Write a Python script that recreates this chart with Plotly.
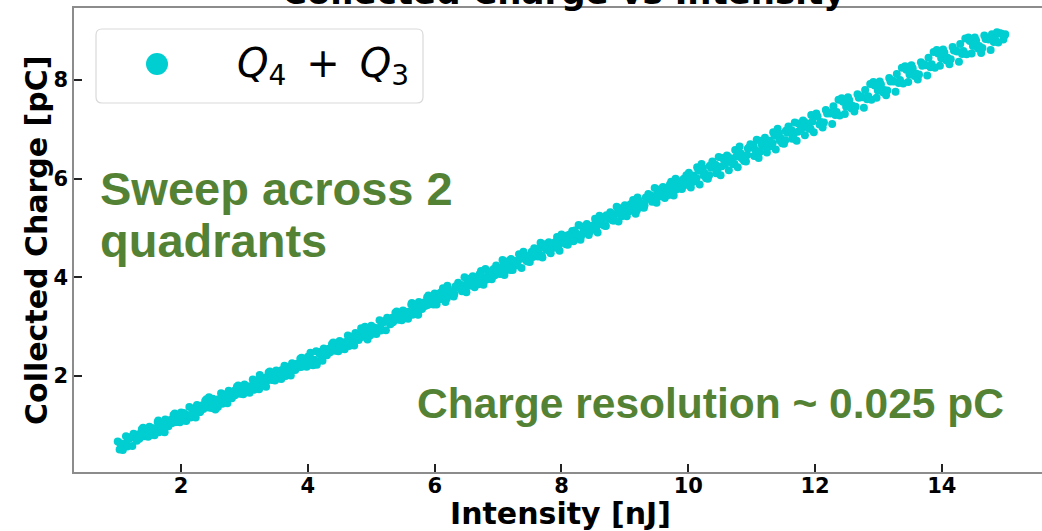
import plotly.graph_objects as go

# ---- measured data: collected charge [pC] vs laser intensity [nJ] ----
intensity_low = [
    1.00, 1.03, 1.05, 1.08, 1.10, 1.13, 1.15, 1.18, 1.20, 1.23, 1.25, 1.28, 1.30, 1.33, 1.35, 1.38, 1.40, 1.43, 1.45, 1.48,
    1.50, 1.53, 1.55, 1.58, 1.60, 1.63, 1.65, 1.68, 1.70, 1.73, 1.75, 1.78, 1.80, 1.83, 1.85, 1.88, 1.90, 1.93, 1.95, 1.98,
    2.00, 2.03, 2.05, 2.08, 2.10, 2.13, 2.15, 2.18, 2.20, 2.23, 2.25, 2.28, 2.30, 2.33, 2.35, 2.38, 2.40, 2.43, 2.45, 2.48,
    2.50, 2.53, 2.55, 2.58, 2.60, 2.63, 2.65, 2.68, 2.70, 2.73, 2.75, 2.78, 2.80, 2.83, 2.85, 2.88, 2.90, 2.93, 2.95, 2.98,
    3.00, 3.03, 3.05, 3.08, 3.10, 3.13, 3.15, 3.18, 3.20, 3.23, 3.25, 3.28, 3.30, 3.33, 3.35, 3.38, 3.40, 3.43, 3.45, 3.48,
    3.50, 3.53, 3.55, 3.58, 3.60, 3.63, 3.65, 3.68, 3.70, 3.73, 3.75, 3.78, 3.80, 3.83, 3.85, 3.88, 3.90, 3.93, 3.95, 3.98,
    4.00, 4.03, 4.05, 4.08, 4.10, 4.13, 4.15, 4.18, 4.20, 4.23, 4.25, 4.28, 4.30, 4.33, 4.35, 4.38, 4.40, 4.43, 4.45, 4.48,
    4.50, 4.53, 4.55, 4.58, 4.60, 4.63, 4.65, 4.68, 4.70, 4.73, 4.75, 4.78, 4.80, 4.83, 4.85, 4.88, 4.90, 4.93, 4.95, 4.98,
    5.00, 5.03, 5.05, 5.08, 5.10, 5.13, 5.15, 5.18, 5.20, 5.23, 5.25, 5.28, 5.30, 5.33, 5.35, 5.38, 5.40, 5.43, 5.45, 5.48,
    5.50, 5.53, 5.55, 5.58, 5.60, 5.63, 5.65, 5.68, 5.70, 5.73, 5.75, 5.78, 5.80, 5.83, 5.85, 5.88, 5.90, 5.93, 5.95, 5.98,
]
charge_low = [
    0.67, 0.51, 0.63, 0.50, 0.61, 0.78, 0.57, 0.74, 0.76, 0.58, 0.83, 0.74, 0.69, 0.82, 0.75, 0.92, 0.95, 0.78, 0.92, 0.77,
    0.97, 0.81, 0.93, 0.80, 0.90, 1.07, 0.86, 1.03, 1.05, 0.87, 1.12, 1.03, 0.98, 1.11, 1.04, 1.21, 1.24, 1.07, 1.21, 1.06,
    1.26, 1.10, 1.22, 1.09, 1.20, 1.37, 1.16, 1.33, 1.34, 1.16, 1.41, 1.32, 1.27, 1.40, 1.33, 1.50, 1.53, 1.36, 1.50, 1.35,
    1.54, 1.38, 1.50, 1.37, 1.48, 1.65, 1.44, 1.61, 1.63, 1.45, 1.70, 1.61, 1.55, 1.68, 1.61, 1.78, 1.81, 1.64, 1.78, 1.63,
    1.83, 1.67, 1.79, 1.66, 1.76, 1.93, 1.72, 1.89, 1.91, 1.73, 1.98, 1.89, 1.84, 1.97, 1.90, 2.07, 2.09, 1.92, 2.06, 1.91,
    2.11, 1.95, 2.07, 1.94, 2.04, 2.21, 2.00, 2.17, 2.19, 2.01, 2.26, 2.17, 2.12, 2.25, 2.18, 2.35, 2.37, 2.20, 2.34, 2.19,
    2.39, 2.23, 2.35, 2.22, 2.33, 2.50, 2.29, 2.46, 2.49, 2.31, 2.56, 2.47, 2.42, 2.55, 2.48, 2.65, 2.68, 2.51, 2.65, 2.50,
    2.71, 2.55, 2.67, 2.54, 2.65, 2.82, 2.61, 2.78, 2.80, 2.62, 2.87, 2.78, 2.73, 2.86, 2.79, 2.96, 3.00, 2.83, 2.97, 2.82,
    3.02, 2.86, 2.98, 2.85, 2.96, 3.13, 2.92, 3.09, 3.11, 2.93, 3.18, 3.09, 3.05, 3.18, 3.11, 3.28, 3.31, 3.14, 3.28, 3.13,
    3.33, 3.17, 3.29, 3.16, 3.28, 3.45, 3.24, 3.41, 3.43, 3.25, 3.50, 3.41, 3.36, 3.49, 3.42, 3.59, 3.63, 3.46, 3.60, 3.45,
]
intensity_low_2 = [
    1.04, 1.09, 1.14, 1.19, 1.24, 1.29, 1.34, 1.39, 1.44, 1.49, 1.54, 1.59, 1.64, 1.69, 1.74, 1.79, 1.84, 1.89, 1.94, 1.99,
    2.04, 2.09, 2.14, 2.19, 2.24, 2.29, 2.34, 2.39, 2.44, 2.49, 2.54, 2.59, 2.64, 2.69, 2.74, 2.79, 2.84, 2.89, 2.94, 2.99,
    3.04, 3.09, 3.14, 3.19, 3.24, 3.29, 3.34, 3.39, 3.44, 3.49, 3.54, 3.59, 3.64, 3.69, 3.74, 3.79, 3.84, 3.89, 3.94, 3.99,
    4.04, 4.09, 4.14, 4.19, 4.24, 4.29, 4.34, 4.39, 4.44, 4.49, 4.54, 4.59, 4.64, 4.69, 4.74, 4.79, 4.84, 4.89, 4.94, 4.99,
    5.04, 5.09, 5.14, 5.19, 5.24, 5.29, 5.34, 5.39, 5.44, 5.49, 5.54, 5.59, 5.64, 5.69, 5.74, 5.79, 5.84, 5.89, 5.94, 5.99,
]
charge_low_2 = [
    0.63, 0.59, 0.64, 0.74, 0.78, 0.74, 0.73, 0.83, 0.84, 0.81, 0.94, 0.94, 1.10, 0.95, 0.86, 1.07, 1.10, 1.06, 1.11, 1.21,
    1.25, 1.21, 1.20, 1.30, 1.30, 1.27, 1.40, 1.40, 1.57, 1.42, 1.32, 1.53, 1.56, 1.52, 1.57, 1.67, 1.70, 1.66, 1.65, 1.75,
    1.76, 1.73, 1.85, 1.85, 2.02, 1.87, 1.78, 1.99, 2.01, 1.97, 2.02, 2.12, 2.15, 2.11, 2.10, 2.20, 2.21, 2.18, 2.30, 2.30,
    2.47, 2.32, 2.23, 2.44, 2.48, 2.44, 2.49, 2.59, 2.63, 2.59, 2.59, 2.69, 2.70, 2.67, 2.80, 2.80, 2.97, 2.82, 2.74, 2.95,
    2.98, 2.94, 2.99, 3.09, 3.13, 3.09, 3.09, 3.19, 3.20, 3.17, 3.30, 3.30, 3.48, 3.33, 3.24, 3.45, 3.48, 3.44, 3.50, 3.60,
]

intensity_mid = [
    6.00, 6.03, 6.07, 6.10, 6.13, 6.17, 6.20, 6.23, 6.27, 6.30, 6.33, 6.37, 6.40, 6.43, 6.47,
    6.50, 6.53, 6.57, 6.60, 6.63, 6.67, 6.70, 6.73, 6.77, 6.80, 6.83, 6.87, 6.90, 6.93, 6.97,
    7.00, 7.03, 7.07, 7.10, 7.13, 7.17, 7.20, 7.23, 7.27, 7.30, 7.33, 7.37, 7.40, 7.43, 7.47,
    7.50, 7.53, 7.57, 7.60, 7.63, 7.67, 7.70, 7.73, 7.77, 7.80, 7.83, 7.87, 7.90, 7.93, 7.97,
    8.00, 8.03, 8.07, 8.10, 8.13, 8.17, 8.20, 8.23, 8.27, 8.30, 8.33, 8.37, 8.40, 8.43, 8.47,
    8.50, 8.53, 8.57, 8.60, 8.63, 8.67, 8.70, 8.73, 8.77, 8.80, 8.83, 8.87, 8.90, 8.93, 8.97,
    9.00, 9.03, 9.07, 9.10, 9.13, 9.17, 9.20, 9.23, 9.27, 9.30, 9.33, 9.37, 9.40, 9.43, 9.47,
    9.50, 9.53, 9.57, 9.60, 9.63, 9.67, 9.70, 9.73, 9.77, 9.80, 9.83, 9.87, 9.90, 9.93, 9.97,
]
charge_mid = [
    3.67, 3.45, 3.63, 3.56, 3.78, 3.50, 3.83, 3.68, 3.63, 3.61, 3.82, 3.89, 3.83, 3.72, 4.00,
    3.70, 3.97, 3.86, 4.02, 3.80, 3.98, 3.91, 4.13, 3.85, 4.17, 4.02, 3.97, 3.96, 4.17, 4.24,
    4.18, 4.07, 4.35, 4.05, 4.32, 4.21, 4.37, 4.15, 4.33, 4.25, 4.47, 4.19, 4.52, 4.37, 4.32,
    4.31, 4.52, 4.59, 4.53, 4.42, 4.70, 4.40, 4.67, 4.56, 4.71, 4.49, 4.67, 4.60, 4.82, 4.54,
    4.87, 4.72, 4.67, 4.66, 4.87, 4.94, 4.89, 4.78, 5.06, 4.76, 5.03, 4.92, 5.08, 4.86, 5.04,
    4.97, 5.19, 4.91, 5.25, 5.10, 5.05, 5.04, 5.25, 5.32, 5.26, 5.15, 5.43, 5.13, 5.40, 5.29,
    5.46, 5.24, 5.42, 5.35, 5.57, 5.29, 5.62, 5.47, 5.42, 5.41, 5.62, 5.69, 5.64, 5.53, 5.81,
    5.51, 5.78, 5.67, 5.83, 5.61, 5.79, 5.72, 5.94, 5.66, 6.00, 5.85, 5.80, 5.79, 6.00, 6.07,
]
intensity_mid_2 = [
    6.01, 6.05, 6.09, 6.11, 6.15, 6.19, 6.21, 6.25, 6.29, 6.31, 6.35, 6.39, 6.41, 6.45, 6.49,
    6.51, 6.55, 6.59, 6.61, 6.65, 6.69, 6.71, 6.75, 6.79, 6.81, 6.85, 6.89, 6.91, 6.95, 6.99,
    7.01, 7.05, 7.09, 7.11, 7.15, 7.19, 7.21, 7.25, 7.29, 7.31, 7.35, 7.39, 7.41, 7.45, 7.49,
    7.51, 7.55, 7.59, 7.61, 7.65, 7.69, 7.71, 7.75, 7.79, 7.81, 7.85, 7.89, 7.91, 7.95, 7.99,
    8.01, 8.05, 8.09, 8.11, 8.15, 8.19, 8.21, 8.25, 8.29, 8.31, 8.35, 8.39, 8.41, 8.45, 8.49,
    8.51, 8.55, 8.59, 8.61, 8.65, 8.69, 8.71, 8.75, 8.79, 8.81, 8.85, 8.89, 8.91, 8.95, 8.99,
    9.01, 9.05, 9.09, 9.11, 9.15, 9.19, 9.21, 9.25, 9.29, 9.31, 9.35, 9.39, 9.41, 9.45, 9.49,
    9.51, 9.55, 9.59, 9.61, 9.65, 9.69, 9.71, 9.75, 9.79, 9.81, 9.85, 9.89, 9.91, 9.95, 9.99,
]
charge_mid_2 = [
    3.59, 3.54, 3.69, 3.60, 3.71, 3.57, 3.78, 3.71, 3.69, 3.66, 3.79, 3.83, 3.85, 3.75, 3.83,
    3.88, 3.83, 3.98, 3.89, 4.00, 3.86, 4.07, 4.00, 3.98, 3.95, 4.08, 4.12, 4.14, 4.04, 4.12,
    4.17, 4.12, 4.27, 4.18, 4.29, 4.15, 4.36, 4.29, 4.27, 4.24, 4.37, 4.41, 4.43, 4.33, 4.41,
    4.46, 4.41, 4.56, 4.47, 4.58, 4.44, 4.65, 4.58, 4.56, 4.53, 4.66, 4.70, 4.72, 4.62, 4.70,
    4.75, 4.70, 4.85, 4.76, 4.87, 4.73, 4.95, 4.88, 4.86, 4.84, 4.97, 5.01, 5.03, 4.93, 5.01,
    5.06, 5.01, 5.16, 5.08, 5.19, 5.05, 5.26, 5.19, 5.17, 5.15, 5.28, 5.32, 5.34, 5.24, 5.32,
    5.38, 5.33, 5.48, 5.39, 5.50, 5.36, 5.57, 5.50, 5.48, 5.46, 5.59, 5.63, 5.66, 5.56, 5.64,
    5.69, 5.64, 5.79, 5.70, 5.81, 5.67, 5.88, 5.81, 5.79, 5.78, 5.91, 5.95, 5.97, 5.87, 5.95,
]

intensity_high = [
    10.01, 10.04, 10.08, 10.11, 10.14, 10.18, 10.21, 10.24, 10.28, 10.31, 10.34, 10.38, 10.41, 10.44, 10.48,
    10.51, 10.54, 10.58, 10.61, 10.64, 10.68, 10.71, 10.74, 10.78, 10.81, 10.84, 10.88, 10.91, 10.94, 10.98,
    11.01, 11.04, 11.08, 11.11, 11.14, 11.18, 11.21, 11.24, 11.28, 11.31, 11.34, 11.38, 11.41, 11.44, 11.48,
    11.51, 11.54, 11.58, 11.61, 11.64, 11.68, 11.71, 11.74, 11.78, 11.81, 11.84, 11.88, 11.91, 11.94, 11.98,
    12.02, 12.07, 12.12, 12.17, 12.22, 12.27, 12.32, 12.37, 12.42, 12.47, 12.52, 12.57, 12.62, 12.67, 12.72,
    12.77, 12.82, 12.87, 12.92, 12.97, 13.02, 13.07, 13.12, 13.17, 13.22, 13.27, 13.32, 13.37, 13.42, 13.47,
    13.52, 13.57, 13.62, 13.67, 13.72, 13.77, 13.82, 13.87, 13.92, 13.97, 14.02, 14.07, 14.12, 14.17, 14.22,
    14.27, 14.32, 14.37, 14.42, 14.47, 14.52, 14.57, 14.62, 14.67, 14.72, 14.77, 14.82, 14.87, 14.92, 14.97,
    15.00,
]
charge_high = [
    6.12, 5.82, 6.06, 5.95, 6.23, 5.88, 6.30, 6.07, 6.01, 6.00, 6.26, 6.35, 6.28, 6.11, 6.44,
    6.07, 6.42, 6.30, 6.47, 6.17, 6.41, 6.30, 6.58, 6.23, 6.65, 6.42, 6.36, 6.35, 6.61, 6.70,
    6.63, 6.46, 6.79, 6.42, 6.77, 6.65, 6.83, 6.53, 6.77, 6.66, 6.94, 6.59, 7.01, 6.78, 6.72,
    6.71, 6.97, 7.06, 6.98, 6.81, 7.14, 6.77, 7.12, 7.00, 7.18, 6.88, 7.12, 7.01, 7.29, 6.94,
    7.32, 7.10, 7.04, 7.39, 7.34, 7.11, 7.29, 7.60, 7.63, 7.31, 7.65, 7.43, 7.36, 7.71, 7.67,
    7.44, 7.61, 7.92, 7.96, 7.64, 7.97, 7.75, 7.69, 8.04, 7.99, 7.76, 7.94, 8.25, 8.28, 7.96,
    8.30, 8.08, 8.01, 8.36, 8.32, 8.09, 8.26, 8.57, 8.61, 8.29, 8.62, 8.40, 8.32, 8.67, 8.60,
    8.37, 8.53, 8.84, 8.86, 8.54, 8.86, 8.64, 8.55, 8.90, 8.84, 8.61, 8.77, 8.97, 8.95, 8.82,
    8.93,
]
intensity_high_2 = [
    10.03, 10.06, 10.13, 10.16, 10.23, 10.26, 10.33, 10.36, 10.43, 10.46, 10.53, 10.56, 10.63, 10.66, 10.73, 10.76,
    10.83, 10.86, 10.93, 10.96, 11.03, 11.06, 11.13, 11.16, 11.23, 11.26, 11.33, 11.36, 11.43, 11.46, 11.53, 11.56,
    11.63, 11.66, 11.73, 11.76, 11.83, 11.86, 11.93, 11.96,
    12.04, 12.09, 12.14, 12.19, 12.24, 12.29, 12.34, 12.39, 12.44, 12.49, 12.54, 12.59, 12.64, 12.69, 12.74, 12.79,
    12.84, 12.89, 12.94, 12.99, 13.04, 13.09, 13.14, 13.19, 13.24, 13.29, 13.34, 13.39, 13.44, 13.49, 13.54, 13.59,
    13.64, 13.69, 13.74, 13.79, 13.84, 13.89, 13.94, 13.99, 14.04, 14.09, 14.14, 14.19, 14.24, 14.29, 14.34, 14.39,
    14.44, 14.49, 14.54, 14.59, 14.64, 14.69, 14.74, 14.79, 14.84, 14.89, 14.94, 14.99,
]
charge_high_2 = [
    6.04, 5.93, 6.01, 6.16, 6.21, 6.11, 6.07, 6.22, 6.28, 6.17, 6.25, 6.40, 6.44, 6.34, 6.30, 6.45,
    6.51, 6.40, 6.48, 6.63, 6.68, 6.58, 6.54, 6.69, 6.75, 6.64, 6.72, 6.87, 6.92, 6.82, 6.78, 6.93,
    6.98, 6.87, 6.95, 7.10, 7.15, 7.05, 7.01, 7.16,
    7.26, 7.15, 7.14, 7.32, 7.32, 7.47, 7.35, 7.28, 7.56, 7.46, 7.59, 7.48, 7.46, 7.64, 7.65, 7.80,
    7.67, 7.60, 7.89, 7.79, 7.91, 7.80, 7.79, 7.97, 7.97, 8.12, 8.00, 7.93, 8.21, 8.11, 8.24, 8.13,
    8.11, 8.29, 8.30, 8.45, 8.32, 8.25, 8.54, 8.44, 8.56, 8.45, 8.42, 8.60, 8.58, 8.73, 8.59, 8.52,
    8.79, 8.69, 8.80, 8.69, 8.65, 8.83, 8.82, 8.93, 8.83, 8.76, 8.94, 8.90,
]

series_label = "<i>Q</i><sub>4</sub>\u2002+\u2002<i>Q</i><sub>3</sub>"
x_ticks = [2, 4, 6, 8, 10, 12, 14]
y_ticks = [2, 4, 6, 8]

intensity = intensity_low + intensity_low_2 + intensity_mid + intensity_mid_2 + intensity_high + intensity_high_2
charge = charge_low + charge_low_2 + charge_mid + charge_mid_2 + charge_high + charge_high_2

# ---- figure geometry (pixels) ----
W, H = 1042, 531
L, R, T, B = 74, 0, 8, 59
PW, PH = W - L - R, H - T - B


def px(x):
    return (x - L) / PW


def py(y):
    return (H - B - y) / PH


TURQ = "#00CED1"
GREEN = "#548235"
AXFONT = dict(family="DejaVu Sans", size=21, color="black", weight="bold")

fig = go.Figure()
fig.add_trace(go.Scatter(
    x=intensity, y=charge, mode="markers", name="Q4 + Q3",
    marker=dict(color=TURQ, size=8, line=dict(width=0)),
    showlegend=False,
))

axis_common = dict(
    showgrid=False, zeroline=False, showline=True, linecolor="#8c8c8c", linewidth=1.5,
    ticks="inside", ticklen=8, tickwidth=1.5, tickcolor="#222222", tickfont=AXFONT,
)
fig.update_xaxes(range=[0.31, 15.58], tickvals=x_ticks, mirror=True, ticklabelstandoff=-6, **axis_common)
fig.update_yaxes(range=[0.054, 9.46], tickvals=y_ticks, mirror=False, **axis_common)

annotations = [
    # title (partly above the page edge)
    dict(text="Collected Charge vs Intensity", x=px(563), y=py(14), xanchor="center", yanchor="bottom",
         font=dict(family="DejaVu Sans", size=34, color="black", weight="bold")),
    # axis titles
    dict(text="Intensity [nJ]", x=px(560), y=py(513), xanchor="center", yanchor="middle",
         font=dict(family="DejaVu Sans", size=30, color="black", weight="bold")),
    dict(text="Collected Charge [pC]", x=px(36), y=py(240), xanchor="center", yanchor="middle",
         textangle=-90, font=dict(family="DejaVu Sans", size=30, color="black", weight="bold")),
    # notes
    dict(text="Sweep across 2", x=px(98), y=py(188), xanchor="left", yanchor="middle",
         font=dict(family="Liberation Sans", size=47, color=GREEN, weight="bold")),
    dict(text="quadrants", x=px(98), y=py(240), xanchor="left", yanchor="middle",
         font=dict(family="Liberation Sans", size=47, color=GREEN, weight="bold")),
    dict(text="Charge resolution ~ 0.025 pC", x=px(415), y=py(403), xanchor="left", yanchor="middle",
         font=dict(family="Liberation Sans", size=42.5, color=GREEN, weight="bold")),
    # legend label
    dict(text=series_label, x=px(235), y=py(66), xanchor="left", yanchor="middle",
         font=dict(family="DejaVu Sans", size=40, color="black")),
]
for a in annotations:
    a.update(xref="paper", yref="paper", showarrow=False)
fig.update_layout(annotations=annotations)

# legend frame with rounded corners
x0, x1, y0, y1 = px(96), px(423), py(103), py(29)
rx, ry = 6 / PW, 6 / PH
frame = (f"M {x0+rx},{y1} L {x1-rx},{y1} Q {x1},{y1} {x1},{y1-ry} L {x1},{y0+ry} "
         f"Q {x1},{y0} {x1-rx},{y0} L {x0+rx},{y0} Q {x0},{y0} {x0},{y0+ry} "
         f"L {x0},{y1-ry} Q {x0},{y1} {x0+rx},{y1} Z")
fig.add_shape(type="path", path=frame, xref="paper", yref="paper",
              line=dict(color="#d9d9d9", width=1.2), fillcolor="rgba(255,255,255,0.8)", layer="above")
fig.add_shape(type="circle", xref="paper", yref="paper",
              x0=px(146), x1=px(168), y0=py(75), y1=py(53),
              fillcolor=TURQ, line=dict(width=0), layer="above")

fig.update_layout(
    width=W, height=H,
    margin=dict(l=L, r=R, t=T, b=B, pad=0),
    plot_bgcolor="white", paper_bgcolor="white",
    showlegend=False,
)

fig.write_html("out.html", config={"displayModeBar": False})
